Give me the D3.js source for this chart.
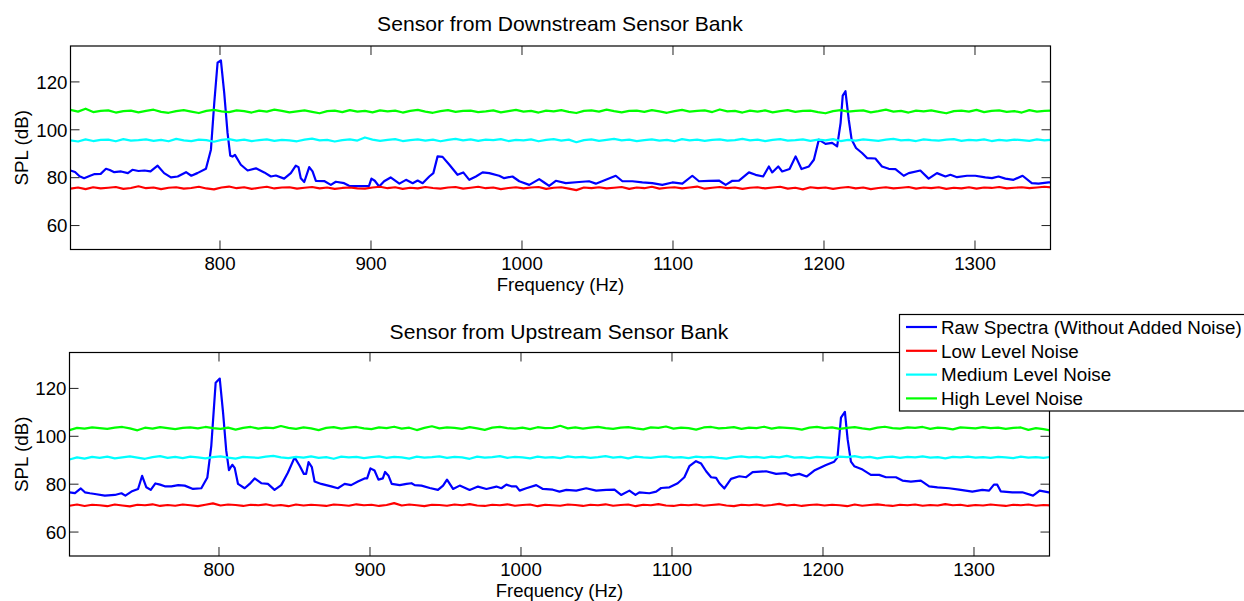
<!DOCTYPE html>
<html>
<head>
<meta charset="utf-8">
<script src="https://cdn.jsdelivr.net/npm/d3@7"></script>
<style>
  body { margin: 0; background: #fff; }
  text { font-family: "Liberation Sans", Arial, Helvetica, sans-serif; fill: #000; }
</style>
</head>
<body>
<svg id="chart" width="1244" height="601"></svg>
<script>
// ---- data ----
const xTicks = [800, 900, 1000, 1100, 1200, 1300];
const yTicks = [60, 80, 100, 120];
const seriesNames = ["Raw Spectra (Without Added Noise)", "Low Level Noise", "Medium Level Noise", "High Level Noise"];
const seriesColors = ["#0000ff", "#ff0000", "#00ffff", "#00ff00"];
const noiseStart = 701, noiseStep = 5; // noise samples every 5 Hz

// downstream bank (top)
const downRaw = [[701,83.0],[704,82.4],[707,80.6],[710,79.8],[714,80.8],[717,81.5],[721,81.6],[724.5,83.7],[727,83.2],[730,82.3],[734.5,82.6],[739,81.9],[742,83.3],[746,82.8],[750,83.0],[754,82.6],[758.7,85.0],[763,81.9],[767.5,80.1],[772,80.5],[777.5,82.3],[781,80.8],[785,81.9],[790.7,83.7],[794,91.7],[796.2,111.2],[798.4,128],[800.6,129],[802.8,115.4],[805,98.7],[806.8,89.2],[808.3,88.8],[809.9,89.5],[813.8,85.4],[818.3,83.0],[823.8,83.9],[829.3,82.2],[833.7,80.5],[837,80.9],[842.5,79.6],[846.9,81.9],[850.2,85.0],[852,84.4],[853.5,79.8],[855.8,78.2],[859.1,84.4],[861.3,82.6],[863.5,78.7],[869,78.6],[873.4,77.0],[876.7,78.3],[882.2,77.7],[885.5,76.6],[893.2,76.5],[898.7,76.6],[900.3,79.6],[902.5,78.7],[905.4,76.3],[908.7,78.5],[913,80.1],[918.8,77.5],[923.2,79.1],[927.6,77.7],[930.9,78.8],[934.2,77.7],[938.6,80.5],[941.3,81.9],[944.1,88.9],[947.4,88.7],[951.9,85.4],[957.3,81.2],[961.1,82.2],[965.1,79.1],[969.5,80.5],[973.9,82.2],[978.3,81.9],[984.9,80.8],[988.2,79.8],[993.7,80.5],[998.2,78.5],[1004.8,77.0],[1011.4,79.4],[1014.7,78.0],[1018,76.6],[1022.4,78.7],[1029,77.7],[1037.8,78.2],[1044.4,78.5],[1048.9,77.5],[1055.5,79.1],[1062.1,80.8],[1066.5,78.5],[1073.1,78.5],[1079.7,78.0],[1086.3,77.7],[1092.9,77.0],[1099.6,78.0],[1106.2,77.5],[1112.8,80.8],[1117.2,78.5],[1123.8,78.7],[1130.4,78.8],[1134.9,77.0],[1139.3,78.7],[1143.7,78.8],[1150.3,82.2],[1154.7,81.2],[1159.7,80.5],[1163.5,84.7],[1165.7,82.2],[1169.7,84.7],[1172.3,82.6],[1177.2,83.6],[1181.2,88.9],[1185.1,83.6],[1190,84.7],[1193.3,87.5],[1196.6,95.9],[1201,94.1],[1205.4,94.5],[1208.7,93.1],[1211,102.9],[1212.4,114.3],[1214.2,116.1],[1216.4,104.2],[1218.3,95.9],[1221.2,92.4],[1225.2,90.3],[1228.5,88.2],[1234,88.0],[1238.4,84.7],[1242.9,83.7],[1247.3,83.6],[1252.8,80.8],[1256.1,81.9],[1263.8,83.0],[1269.3,79.6],[1274.8,81.9],[1280.4,80.5],[1283.7,81.2],[1288.1,80.2],[1294.7,80.8],[1300.2,80.8],[1306.8,80.1],[1311.2,79.8],[1315.6,80.5],[1320.1,79.6],[1325.5,79.1],[1331.5,80.8],[1337.6,77.7],[1342.1,77.5],[1348.7,78.0],[1350,78.0]];
const downLow = [75.4,75.9,75.2,76.0,75.5,75.8,76.1,75.3,75.7,76.4,
  75.6,75.9,75.2,75.8,76.0,75.4,75.7,76.2,75.5,75.1,
  75.9,76.3,75.6,76.0,75.3,75.8,76.2,75.5,75.9,76.0,
  75.4,75.8,76.1,75.5,75.9,75.3,75.7,75.9,75.5,75.4,
  75.9,76.2,75.6,76.0,75.3,75.8,75.5,76.1,75.7,75.4,
  75.9,76.1,75.4,75.8,76.2,75.6,75.9,75.2,75.7,76.0,
  75.5,75.9,76.1,75.3,75.8,76.0,75.4,74.8,75.9,75.6,
  76.0,75.5,75.8,76.1,75.3,75.9,75.6,76.2,75.4,75.8,
  76.0,75.5,75.9,76.3,75.4,75.8,76.1,75.6,75.9,75.3,
  75.8,76.0,75.5,75.9,76.2,75.4,75.8,75.1,76.0,75.6,
  75.9,75.3,75.8,76.1,75.5,75.9,75.2,75.7,76.0,75.5,
  75.8,76.1,75.4,75.9,75.6,76.0,75.3,75.8,75.5,76.0,
  75.4,75.9,75.7,76.1,75.5,75.8,76.0,75.6,75.9,76.2,75.9];
const downMed = [95.6,95.1,96.0,95.3,95.8,95.9,95.2,96.1,95.5,95.7,
  96.0,95.4,95.8,95.2,96.2,95.6,95.3,95.9,95.7,95.0,
  95.8,96.1,95.5,95.9,95.3,95.7,96.0,95.4,95.8,95.6,
  95.2,95.9,96.3,95.6,95.8,95.1,95.7,96.0,95.5,96.8,
  95.9,95.4,95.8,96.1,95.3,95.7,96.0,95.5,95.9,95.2,
  95.8,96.2,95.6,96.0,95.4,95.9,95.7,96.1,95.3,95.8,
  95.6,96.0,95.2,95.8,96.1,95.5,95.9,94.8,95.7,96.0,
  95.4,95.8,96.2,95.6,95.9,95.3,95.7,96.0,95.5,95.8,
  95.2,96.1,95.6,95.9,95.4,95.8,96.0,95.5,95.7,96.2,
  95.6,95.9,95.3,95.8,96.1,95.5,95.7,96.0,95.4,95.9,
  95.6,96.1,95.3,95.8,95.5,96.0,95.7,95.4,95.9,96.2,
  95.6,95.8,95.3,96.0,95.7,95.5,95.9,96.1,95.4,95.8,
  95.6,96.0,95.3,95.8,95.5,95.9,95.7,95.4,96.0,95.6,95.8];
const downHigh = [108.3,107.6,108.8,107.4,107.9,108.1,107.2,107.8,108.0,107.3,
  107.9,108.4,107.5,107.1,107.8,108.2,107.6,107.0,107.9,108.3,
  107.7,107.4,108.1,107.8,107.2,108.0,107.6,108.4,107.9,107.3,
  107.7,108.1,107.5,106.9,107.8,108.0,107.4,108.2,107.6,107.9,
  107.3,108.1,107.7,108.0,107.2,107.9,108.3,107.6,107.1,107.8,
  108.2,107.5,107.9,108.0,107.4,107.7,108.1,107.3,107.8,108.3,
  107.6,107.9,107.2,108.0,107.7,108.2,107.5,107.0,107.9,108.1,
  107.6,108.4,107.8,107.3,107.9,108.0,107.5,108.2,107.7,107.1,
  107.8,108.3,107.6,107.9,108.1,107.4,108.5,107.7,107.9,107.2,
  108.0,107.6,108.1,107.3,107.8,108.2,107.5,107.9,108.0,107.4,
  106.9,107.8,108.2,107.6,107.9,108.1,107.3,107.8,108.4,107.6,
  107.9,107.2,108.0,107.7,108.1,107.5,106.9,107.8,108.0,107.6,
  108.3,107.4,107.9,108.1,107.5,107.8,107.2,108.2,107.6,107.9,108.0];

// upstream bank (bottom)
const upRaw = [[701,76.6],[704.6,76.3],[708.5,78.2],[711.2,76.6],[714.5,76.2],[717.8,75.9],[724.4,75.2],[731,75.5],[735.4,76.2],[738,75.2],[742,76.9],[746.4,78.0],[749.1,83.5],[751.9,78.7],[754.8,77.6],[757.9,80.3],[761,79.8],[764.1,79.1],[768.5,79.1],[773,79.6],[777.3,79.4],[782.8,78.0],[788.3,78.3],[792.3,82.8],[794.9,96.0],[797.8,122.4],[800.5,124.1],[802.7,109.9],[804.8,94.0],[806.6,85.9],[808.8,88.1],[810.4,86.8],[812.6,80.1],[817,78.3],[820.3,80.1],[823.6,82.4],[828,80.4],[832.4,80.1],[836.8,77.6],[841.2,79.6],[845.6,84.8],[850.1,91.2],[853.4,87.7],[856.2,84.3],[857.7,84.3],[859.3,89.2],[861.5,87.1],[863.3,81.1],[867.7,80.1],[874.3,79.1],[878.7,78.3],[883.2,80.1],[887.5,79.6],[892,81.1],[896.4,82.4],[898.1,82.4],[900.3,86.6],[903,85.7],[905.6,81.9],[908.5,82.4],[910,85.1],[912.3,83.5],[914.4,80.1],[919.7,79.6],[924.2,80.1],[927.5,80.4],[929.6,79.6],[934.1,79.4],[939.6,78.4],[945,77.6],[948.4,79.4],[951,81.9],[955,78.0],[959.4,79.4],[966,77.6],[971.5,79.0],[977.1,78.0],[983.7,79.0],[987,78.3],[990.3,79.8],[993.6,79.1],[996.9,79.1],[999.1,77.3],[1003.5,78.3],[1010.1,79.6],[1014.5,78.0],[1021.1,77.7],[1025.5,76.9],[1030,77.6],[1036.6,77.3],[1043.2,78.3],[1049.8,77.3],[1056.4,77.6],[1061.9,77.7],[1066.3,75.5],[1071.8,77.3],[1075.8,75.5],[1078.4,76.6],[1085,76.2],[1089.5,76.9],[1092.8,78.4],[1098.3,78.7],[1103.8,80.4],[1108.2,82.9],[1111.5,87.5],[1115.9,89.6],[1119.3,88.6],[1122.6,85.4],[1125.9,82.9],[1129.2,82.6],[1131.4,80.4],[1134.7,78.2],[1139.1,82.2],[1144.6,83.3],[1149.1,82.9],[1153.4,85.0],[1162.3,85.4],[1168.9,84.3],[1175.5,84.6],[1178.8,83.6],[1184.3,84.3],[1189.1,83.2],[1194.2,85.7],[1202,88.0],[1207.4,89.4],[1209.6,91.2],[1211.9,107.8],[1214.5,110.2],[1216.3,98.8],[1218.5,89.4],[1220.7,87.5],[1226.2,86.1],[1231.7,83.9],[1237.2,83.9],[1241.7,82.9],[1248.3,82.9],[1252.6,81.5],[1258.2,81.1],[1264.8,81.5],[1270.3,79.1],[1275.8,78.7],[1283.5,78.3],[1290.1,77.7],[1298.9,76.9],[1305.5,77.6],[1310,77.3],[1313.2,79.8],[1315.4,79.8],[1317.7,77.0],[1325.4,76.6],[1332,76.6],[1339.1,75.2],[1343.5,77.3],[1349.6,76.6],[1350,76.6]];
const upLow = [71.0,71.5,70.9,71.4,71.2,70.8,71.5,71.1,70.7,71.4,
  71.2,71.6,70.9,71.3,71.0,71.5,71.2,70.8,71.4,72.0,
  71.1,71.5,71.3,70.9,71.4,71.2,71.6,71.0,71.3,70.8,
  71.5,71.1,71.4,71.2,70.9,71.5,71.3,71.0,71.6,71.2,
  71.4,70.9,71.3,72.1,71.1,71.5,71.2,70.8,71.4,71.3,
  71.0,71.5,71.2,71.7,71.1,70.9,71.4,71.2,71.6,71.0,
  71.3,71.5,70.8,71.4,71.2,71.0,71.5,71.3,70.9,71.4,
  71.2,71.6,71.0,71.3,71.5,70.8,71.4,71.2,71.7,71.1,
  70.9,71.4,71.2,71.5,71.0,71.3,71.6,71.1,70.8,71.4,
  71.2,71.5,71.0,71.3,71.8,71.1,71.4,70.9,71.3,71.5,
  71.1,71.4,71.2,70.8,71.5,71.0,71.3,71.6,71.2,70.9,
  71.4,71.2,71.5,71.0,71.3,71.1,71.7,71.2,71.4,70.9,
  71.3,71.1,71.5,71.2,70.9,71.4,71.2,71.5,71.0,71.3,71.1];
const upMed = [90.3,91.2,90.7,91.4,91.0,91.5,90.8,91.2,91.6,91.1,
  90.6,91.3,91.7,91.0,91.4,90.9,91.5,91.2,90.8,91.3,
  91.6,91.1,90.7,91.4,91.2,91.0,91.5,91.8,91.2,90.9,
  91.4,91.1,91.6,91.0,91.3,90.6,91.5,91.2,91.4,90.9,
  91.3,91.6,91.0,91.4,91.2,90.7,91.5,91.1,91.3,91.6,
  91.0,91.4,91.2,90.6,91.5,91.1,91.3,91.7,91.0,91.4,
  91.2,90.8,91.5,91.1,91.3,90.9,91.6,91.2,91.4,91.0,
  91.3,91.7,91.1,91.4,90.8,91.5,91.2,91.0,91.4,91.6,
  91.1,91.3,90.9,91.5,91.2,91.4,91.0,90.7,91.3,91.6,
  91.2,91.4,91.0,91.5,91.2,91.8,91.1,91.3,90.9,91.4,
  91.2,91.0,91.5,91.3,91.7,91.1,91.4,90.8,91.3,91.5,
  91.0,91.4,91.2,91.6,91.1,91.3,90.8,91.4,91.2,91.5,
  91.1,91.3,91.0,91.4,91.2,90.9,91.5,91.1,91.3,91.0,91.4];
const upHigh = [102.6,103.5,103.2,103.7,103.4,103.1,103.6,103.9,103.3,102.5,
  103.6,103.2,103.8,103.4,103.0,103.5,103.7,103.3,103.9,103.4,
  103.1,103.6,102.8,103.5,103.9,103.2,103.6,103.4,104.3,103.5,
  103.1,103.7,103.3,102.6,103.5,103.8,103.2,103.6,103.9,103.3,
  103.0,103.7,103.4,104.0,103.2,103.6,102.6,103.5,104.2,103.3,
  103.7,103.5,103.1,103.8,103.3,102.7,103.6,103.9,103.4,103.2,
  103.6,103.0,103.8,103.4,103.5,104.4,103.3,103.7,103.2,103.6,
  103.9,103.4,103.1,103.6,103.8,103.3,102.9,103.7,103.5,104.1,
  103.2,103.6,103.4,102.8,103.7,103.9,103.3,103.5,103.8,103.1,
  103.6,103.4,104.0,103.2,103.7,103.5,103.3,102.8,103.6,103.9,
  103.4,103.7,103.1,103.5,103.8,103.3,102.9,103.6,104.0,103.4,
  103.2,103.7,103.5,103.9,103.1,103.6,103.4,102.9,103.7,103.5,
  103.3,103.8,103.4,103.6,103.1,103.5,103.7,102.7,103.4,103.0,102.4];

const panels = [
  { title: "Sensor from Downstream Sensor Bank", left: 70.5, top: 46, titleY: -15, raw: downRaw, noise: [downLow, downMed, downHigh] },
  { title: "Sensor from Upstream Sensor Bank", left: 69.5, top: 352.5, titleY: -13.5, raw: upRaw, noise: [upLow, upMed, upHigh] }
];

// ---- drawing ----
const svg = d3.select("#chart");
const W = 980, H = 203.5, tickLen = 9;

const x = d3.scaleLinear().domain([701, 1350]).range([0, W]);
const y = d3.scaleLinear().domain([50, 135]).range([H, 0]);
const line = d3.line().x(d => x(d[0])).y(d => y(d[1]));

function toPairs(vals) {
  return vals.map((v, i) => [noiseStart + i * noiseStep, v]);
}

panels.forEach((p, pi) => {
  const g = svg.append("g").attr("transform", `translate(${p.left},${p.top})`);

  g.append("clipPath").attr("id", "clip" + pi)
    .append("rect").attr("width", W).attr("height", H);

  const plot = g.append("g").attr("clip-path", `url(#clip${pi})`);
  // draw order: raw, low, medium, high
  const all = [p.raw].concat(p.noise.map(toPairs));
  all.forEach((d, i) => {
    plot.append("path").datum(d)
      .attr("fill", "none")
      .attr("stroke", seriesColors[i])
      .attr("stroke-width", 2.2)
      .attr("stroke-linejoin", "round")
      .attr("d", line);
  });

  // ticks (inward, on all four sides)
  xTicks.forEach(t => {
    g.append("line").attr("x1", x(t)).attr("x2", x(t)).attr("y1", H).attr("y2", H - tickLen)
      .attr("stroke", "#222").attr("stroke-width", 1);
    g.append("line").attr("x1", x(t)).attr("x2", x(t)).attr("y1", 0).attr("y2", tickLen)
      .attr("stroke", "#222").attr("stroke-width", 1);
    g.append("text").attr("x", x(t)).attr("y", H + 20.2)
      .attr("text-anchor", "middle").style("font-size", "18.7px").text(t);
  });
  yTicks.forEach(t => {
    g.append("line").attr("x1", 0).attr("x2", tickLen).attr("y1", y(t)).attr("y2", y(t))
      .attr("stroke", "#222").attr("stroke-width", 1);
    g.append("line").attr("x1", W).attr("x2", W - tickLen).attr("y1", y(t)).attr("y2", y(t))
      .attr("stroke", "#222").attr("stroke-width", 1);
    g.append("text").attr("x", -3).attr("y", y(t)).attr("dy", "0.36em")
      .attr("text-anchor", "end").style("font-size", "18.7px").text(t);
  });

  g.append("rect").attr("width", W).attr("height", H)
    .attr("fill", "none").attr("stroke", "#000").attr("stroke-width", 1.2);

  g.append("text").attr("x", W / 2).attr("y", H + 41)
    .attr("text-anchor", "middle").style("font-size", "18.5px").text("Frequency (Hz)");
  g.append("text").attr("transform", `translate(${27.5 - p.left},${H / 2}) rotate(-90)`)
    .attr("text-anchor", "middle").style("font-size", "18.8px").text("SPL (dB)");
  g.append("text").attr("x", W / 2 - 0.5).attr("y", p.titleY)
    .attr("text-anchor", "middle").style("font-size", "21.1px").text(p.title);
});

// ---- legend ----
const lg = svg.append("g").attr("transform", "translate(899.5,314.5)");
lg.append("rect").attr("width", 400).attr("height", 96.5)
  .attr("fill", "#fff").attr("stroke", "#000").attr("stroke-width", 1.2);
seriesNames.forEach((name, i) => {
  const cy = 12.5 + i * 23.8;
  lg.append("line").attr("x1", 6.5).attr("x2", 37.5).attr("y1", cy).attr("y2", cy)
    .attr("stroke", seriesColors[i]).attr("stroke-width", 2.2);
  lg.append("text").attr("x", 41.5).attr("y", cy).attr("dy", "0.36em")
    .style("font-size", "18.8px").text(name);
});
</script>
</body>
</html>
